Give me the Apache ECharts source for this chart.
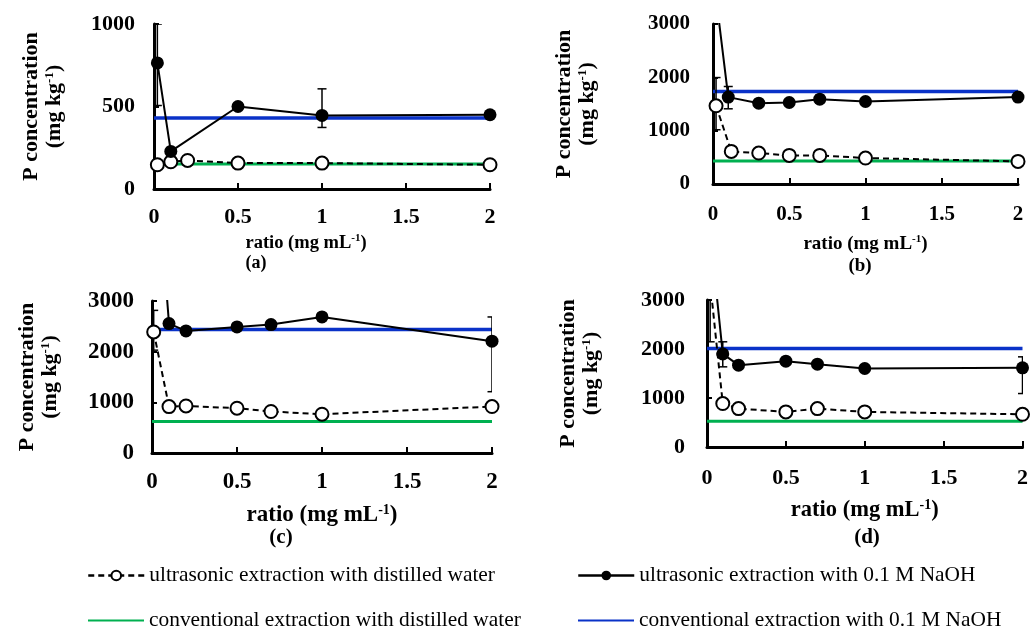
<!DOCTYPE html>
<html>
<head>
<meta charset="utf-8">
<script src="https://cdn.jsdelivr.net/npm/echarts@6/dist/echarts.min.js"></script>
<style>
html,body{margin:0;padding:0;background:#fff;}
#chart{width:1031px;height:628px;}
</style>
</head>
<body>
<div id="chart"></div>
<script>
// ---------- DATA ----------
const NAME_UW = 'ultrasonic extraction with distilled water';
const NAME_UN = 'ultrasonic extraction with 0.1 M NaOH';
const NAME_CW = 'conventional extraction with distilled water';
const NAME_CN = 'conventional extraction with 0.1 M NaOH';
const panelLabels = ['(a)', '(b)', '(c)', '(d)'];

// panel (a)
const a_water_x = [0.02, 0.1, 0.2, 0.5, 1, 2];
const a_water_y = [147, 165, 173, 157, 157, 147];
const a_naoh_x = [0.02, 0.1, 0.5, 1, 2];
const a_naoh_y = [764, 228, 500, 446, 450];
const a_err_x = [0.02, 1];
const a_err_y = [764, 446];
const a_err_lo = [258, 73];
const a_err_hi = [236, 161];
const a_conv_water = 151;
const a_conv_naoh = 430;

// panel (b)
const b_water_x = [0.02, 0.12, 0.3, 0.5, 0.7, 1, 2];
const b_water_y = [1466, 611, 580, 536, 536, 487, 424];
const b_naoh_x = [0.02, 0.1, 0.3, 0.5, 0.7, 1, 2];
const b_naoh_y = [3500, 1629, 1516, 1528, 1591, 1547, 1629];
const b_err_x = [0.02, 0.1, 0.7];
const b_err_y = [1466, 1629, 1591];
const b_err_lo = [449, 219, 70];
const b_err_hi = [530, 199, 70];
const b_conv_water = 430;
const b_conv_naoh = 1734;

// panel (c)
const c_water_x = [0.01, 0.1, 0.2, 0.5, 0.7, 1, 2];
const c_water_y = [2389, 916, 929, 884, 819, 766, 917];
const c_naoh_x = [0.02, 0.1, 0.2, 0.5, 0.7, 1, 2];
const c_naoh_y = [6000, 2554, 2410, 2489, 2534, 2685, 2207];
const c_err_x = [0.01, 2];
const c_err_y = [2389, 2207];
const c_err_lo = [359, 997];
const c_err_hi = [426, 478];
const c_conv_water = 622;
const c_conv_naoh = 2436;

// panel (d)
const d_water_x = [0.02, 0.1, 0.2, 0.5, 0.7, 1, 2];
const d_water_y = [3350, 887, 784, 716, 784, 716, 668];
const d_naoh_x = [0.02, 0.1, 0.2, 0.5, 0.7, 1, 2];
const d_naoh_y = [4400, 1900, 1670, 1752, 1690, 1602, 1616];
const d_err_x = [0.02, 0.1, 2];
const d_err_y = [3350, 1900, 1616];
const d_err_lo = [1203, 264, 525];
const d_err_hi = [1203, 247, 224];
const d_conv_water = 525;
const d_conv_naoh = 2011;

const yMax = [1000, 3000, 3000, 3000];
const yInterval = [500, 1000, 1000, 1000];

// ---------- LAYOUT ----------
const FONT = '"Liberation Serif", "Times New Roman", serif';
const grids = [
  {left: 154, top: 24, width: 336, height: 165},
  {left: 713, top: 24, width: 305, height: 160},
  {left: 152, top: 301, width: 340, height: 152},
  {left: 707, top: 300, width: 316, height: 147}
];
const tickFont = [22, 21, 23, 22];
const xTitleFont = [18.5, 19, 23, 22.5];
const xTitleGap = [44, 50, 50, 51];
const xTitleShift = [32, 0, 0, 0];
const yTitleGap = [88, 114, 90, 104];
const yLabelMargin = [19, 23, 18, 22];
const xLabelMargin = [17, 20, 18, 20];
const panelLabelPos = [[256, 263], [860, 266], [281, 538], [867, 538]];
const panelLabelFont = [18, 19, 21, 21];

const panels = [
  {wx: a_water_x, wy: a_water_y, nx: a_naoh_x, ny: a_naoh_y, ex: a_err_x, ey: a_err_y, elo: a_err_lo, ehi: a_err_hi, cw: a_conv_water, cn: a_conv_naoh},
  {wx: b_water_x, wy: b_water_y, nx: b_naoh_x, ny: b_naoh_y, ex: b_err_x, ey: b_err_y, elo: b_err_lo, ehi: b_err_hi, cw: b_conv_water, cn: b_conv_naoh},
  {wx: c_water_x, wy: c_water_y, nx: c_naoh_x, ny: c_naoh_y, ex: c_err_x, ey: c_err_y, elo: c_err_lo, ehi: c_err_hi, cw: c_conv_water, cn: c_conv_naoh},
  {wx: d_water_x, wy: d_water_y, nx: d_naoh_x, ny: d_naoh_y, ex: d_err_x, ey: d_err_y, elo: d_err_lo, ehi: d_err_hi, cw: d_conv_water, cn: d_conv_naoh}
];

const zip = (xs, ys) => xs.map((x, i) => [x, ys[i]]);

function errRender(params, api) {
  const x = api.value(0), y = api.value(1), lo = api.value(2), hi = api.value(3);
  const t = api.coord([x, y + hi]);
  const b = api.coord([x, y - lo]);
  const w = 4.5;
  const st = {stroke: '#000', lineWidth: 1.5};
  return {
    type: 'group',
    children: [
      {type: 'line', shape: {x1: t[0], y1: t[1], x2: b[0], y2: b[1]}, style: st},
      {type: 'line', shape: {x1: t[0] - w, y1: t[1], x2: t[0] + w, y2: t[1]}, style: st},
      {type: 'line', shape: {x1: b[0] - w, y1: b[1], x2: b[0] + w, y2: b[1]}, style: st}
    ]
  };
}

const xAxes = [], yAxes = [], series = [], graphics = [];
panels.forEach((p, i) => {
  xAxes.push({
    type: 'value', gridIndex: i, min: 0, max: 2, interval: 0.5,
    axisLine: {show: true, lineStyle: {color: '#000', width: 3}},
    axisTick: {show: true, inside: true, length: 6, lineStyle: {color: '#000', width: 2}},
    axisLabel: {fontFamily: FONT, fontWeight: 'bold', fontSize: tickFont[i], color: '#000', margin: xLabelMargin[i],
      formatter: v => String(v)},
    splitLine: {show: false},
    name: '{t|ratio (mg mL}{s|-1}{t|)}',
    nameLocation: 'middle', nameGap: xTitleGap[i],
    nameTextStyle: {
      padding: [0, xTitleShift[i], 0, 0],
      rich: {
        t: {fontFamily: FONT, fontWeight: 'bold', fontSize: xTitleFont[i], color: '#000', lineHeight: xTitleFont[i] + 2},
        s: {fontFamily: FONT, fontWeight: 'bold', fontSize: Math.round(xTitleFont[i] * 0.6), color: '#000', verticalAlign: 'top', lineHeight: xTitleFont[i] + 2}
      }
    }
  });
  yAxes.push({
    type: 'value', gridIndex: i, min: 0, max: yMax[i], interval: yInterval[i],
    axisLine: {show: true, lineStyle: {color: '#000', width: 3}},
    axisTick: {show: true, inside: true, length: 5, lineStyle: {color: '#000', width: 2}},
    axisLabel: {fontFamily: FONT, fontWeight: 'bold', fontSize: tickFont[i], color: '#000', margin: yLabelMargin[i],
      formatter: v => String(v)},
    splitLine: {show: false},
    name: '{t|P concentration}\n{t|(mg kg}{s|-1}{t|)}',
    nameLocation: 'middle', nameRotate: 90, nameGap: yTitleGap[i],
    nameTextStyle: {
      rich: {
        t: {fontFamily: FONT, fontWeight: 'bold', fontSize: 22, color: '#000', lineHeight: 23},
        s: {fontFamily: FONT, fontWeight: 'bold', fontSize: 13, color: '#000', verticalAlign: 'top', lineHeight: 23}
      }
    }
  });
  series.push({
    name: NAME_CW, type: 'line', xAxisIndex: i, yAxisIndex: i,
    data: [[0, p.cw], [2, p.cw]], symbol: 'none',
    lineStyle: {color: '#00b050', width: 3}, itemStyle: {color: '#00b050'}, z: 2, animation: false
  });
  series.push({
    name: NAME_CN, type: 'line', xAxisIndex: i, yAxisIndex: i,
    data: [[0, p.cn], [2, p.cn]], symbol: 'none',
    lineStyle: {color: '#0a32c8', width: 3.5}, itemStyle: {color: '#0a32c8'}, z: 2, animation: false
  });
  series.push({
    name: 'err' + i, type: 'custom', xAxisIndex: i, yAxisIndex: i, clip: true,
    renderItem: errRender,
    data: p.ex.map((x, k) => [x, p.ey[k], p.elo[k], p.ehi[k]]),
    z: 3, animation: false, silent: true
  });
  series.push({
    name: NAME_UW, type: 'line', xAxisIndex: i, yAxisIndex: i, clip: true,
    data: zip(p.wx, p.wy), symbol: 'circle', symbolSize: 13,
    lineStyle: {color: '#000', width: 2, type: [6, 4]},
    itemStyle: {color: '#fff', borderColor: '#000', borderWidth: 2},
    z: 4, animation: false
  });
  series.push({
    name: NAME_UN, type: 'line', xAxisIndex: i, yAxisIndex: i, clip: true,
    data: zip(p.nx, p.ny), symbol: 'circle', symbolSize: 13,
    lineStyle: {color: '#000', width: 2},
    itemStyle: {color: '#000'},
    z: 5, animation: false
  });
  graphics.push({
    type: 'text', x: panelLabelPos[i][0], y: panelLabelPos[i][1],
    style: {text: panelLabels[i], fill: '#000', align: 'center', verticalAlign: 'middle',
      font: 'bold ' + panelLabelFont[i] + 'px ' + FONT}
  });
});

function leg(name, left, top, extra) {
  return Object.assign({
    data: [name], left: left, top: top, padding: 0, itemWidth: 56, itemHeight: 12,
    selectedMode: false,
    textStyle: {fontFamily: FONT, fontSize: 21.4, color: '#000'}
  }, extra || {});
}

const option = {
  backgroundColor: '#fff',
  animation: false,
  grid: grids.map(g => Object.assign({containLabel: false}, g)),
  xAxis: xAxes,
  yAxis: yAxes,
  legend: [
    leg(NAME_UW, 87, 565, {lineStyle: {width: 2.5}}),
    leg(NAME_UN, 577, 565, {lineStyle: {width: 2.5}}),
    leg(NAME_CW, 87, 610, {lineStyle: {width: 2}, itemStyle: {opacity: 0}}),
    leg(NAME_CN, 577, 610, {lineStyle: {width: 2}, itemStyle: {opacity: 0}})
  ],
  graphic: graphics,
  series: series
};

const chart = echarts.init(document.getElementById('chart'), null, {renderer: 'canvas'});
chart.setOption(option);
</script>
</body>
</html>
